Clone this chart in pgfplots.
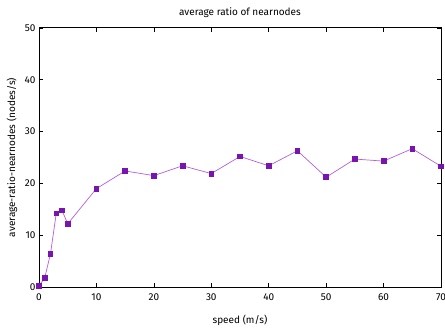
\documentclass[border=0pt]{standalone}
\usepackage{pgfplots}
\pgfplotsset{compat=1.18}
\usepackage{fontspec}
\setmainfont{Fira Sans}
\definecolor{mk}{HTML}{7A14B0}
\definecolor{ln}{HTML}{B060E0}
\begin{document}
\begin{tikzpicture}
\begin{axis}[
  name=ax,
  scale only axis,
  width=402pt, height=259pt,
  xmin=0, xmax=70, ymin=0, ymax=50,
  xtick={0,10,...,70}, ytick={0,10,...,50},
  tick align=inside,
  major tick length=4pt,
  axis line style={line width=1pt},
  tick style={black, line width=0.6pt},
  /pgf/number format/assume math mode=true,
  tick label style={font=\fontsize{10}{12}\selectfont},
  label style={font=\fontsize{10}{12}\selectfont},
  title style={font=\fontsize{10}{12}\selectfont, at={(axis description cs:0.5,1.062)}, anchor=center, yshift=-7pt},
  title={average ratio of nearnodes},
  xlabel={speed (m/s)},
  ylabel={average-ratio-nearnodes (nodes/s)},
  xlabel style={at={(axis description cs:0.5,-0.127)}, anchor=center},
  ylabel style={at={(axis description cs:-0.067,0.5)}, anchor=center},
  xticklabel style={yshift=-3pt},
]
\addplot[color=ln, line width=0.7pt, mark=square*, mark size=2.35pt,
  mark options={draw=mk, fill=mk, solid}] coordinates {
(0,0.2) (1,1.8) (2,6.4) (3,14.2) (4,14.8) (5,12.2) (10,19.0) (15,22.4)
(20,21.5) (25,23.4) (30,21.9) (35,25.2) (40,23.4) (45,26.3) (50,21.2)
(55,24.7) (60,24.3) (65,26.7) (70,23.3)
};
\end{axis}
\pgfresetboundingbox
\path ([xshift=-39pt,yshift=-41pt]ax.south west) rectangle ([xshift=4pt,yshift=28pt]ax.north east);
\end{tikzpicture}
\end{document}
